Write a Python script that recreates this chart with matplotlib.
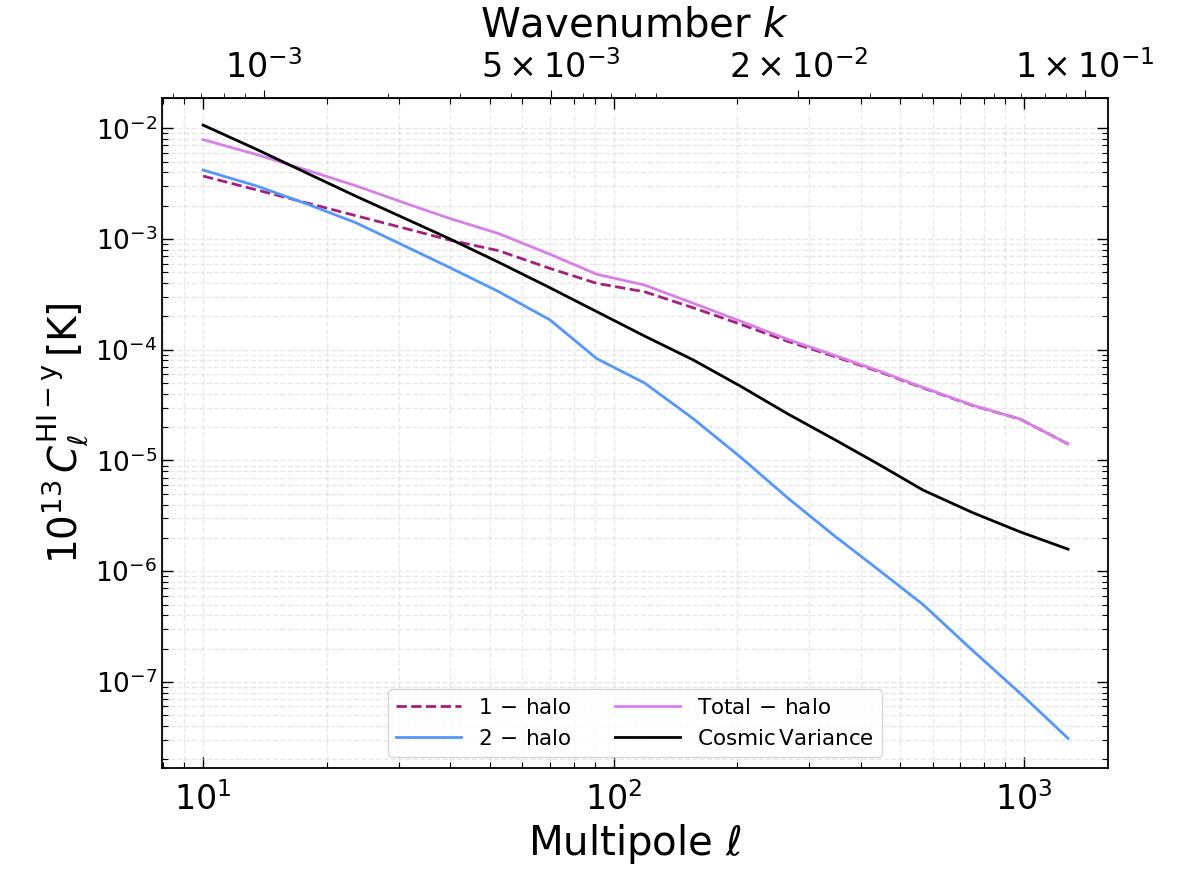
import matplotlib
matplotlib.use("Agg")
import matplotlib.pyplot as plt
from matplotlib.ticker import FixedLocator, FixedFormatter, NullFormatter

# multipoles of the log bins
ell = [10, 13.5, 17.8, 23.5, 30.5, 40, 52.5, 70, 91, 119, 156, 204, 266,
       345, 445, 567, 751, 977, 1280]

# 10^13 C_ell^{HI-y} [K]
one_halo = [3.71e-3, 2.78e-3, 2.13e-3, 1.63e-3, 1.27e-3, 9.77e-4, 7.85e-4,
            5.43e-4, 3.98e-4, 3.34e-4, 2.40e-4, 1.70e-4, 1.19e-4, 8.71e-5,
            6.31e-5, 4.52e-5, 3.13e-5, 2.37e-5, 1.41e-5]
two_halo = [4.20e-3, 3.02e-3, 2.09e-3, 1.41e-3, 8.91e-4, 5.50e-4, 3.35e-4,
            1.86e-4, 8.32e-5, 5.01e-5, 2.40e-5, 1.07e-5, 4.57e-6, 2.09e-6,
            1.01e-6, 5.01e-7, 1.91e-7, 7.94e-8, 3.09e-8]
total_halo = [7.91e-3, 5.80e-3, 4.22e-3, 3.04e-3, 2.16e-3, 1.53e-3, 1.12e-3,
              7.29e-4, 4.81e-4, 3.84e-4, 2.64e-4, 1.81e-4, 1.24e-4, 8.92e-5,
              6.41e-5, 4.57e-5, 3.15e-5, 2.37e-5, 1.41e-5]
cosmic_var = [1.07e-2, 6.46e-3, 3.98e-3, 2.45e-3, 1.58e-3, 1.00e-3, 6.17e-4,
              3.63e-4, 2.21e-4, 1.33e-4, 8.13e-5, 4.68e-5, 2.63e-5, 1.55e-5,
              9.12e-6, 5.41e-6, 3.37e-6, 2.27e-6, 1.58e-6]

# top axis: k = ell / chi
CHI = 14080.0
k_ticks = [1e-3, 5e-3, 2e-2, 1e-1]
k_labels = [r"$10^{-3}$", r"$5\times10^{-3}$", r"$2\times10^{-2}$", r"$1\times10^{-1}$"]

fig = plt.figure(figsize=(11.78, 8.71), dpi=100)
ax = fig.add_axes([0.1375, 0.1183, 0.8031, 0.7692])

ax.plot(ell, one_halo, ls="--", color="#a3207e", lw=2, label=r"$\rm 1\,-\,halo$")
ax.plot(ell, two_halo, color="#5597ff", lw=2, label=r"$\rm 2\,-\,halo$")
ax.plot(ell, total_halo, color="#d680e8", lw=2, label=r"$\rm Total\,-\,halo$")
ax.plot(ell, cosmic_var, color="black", lw=2, label=r"$\rm Cosmic\,Variance$")

ax.set_xscale("log")
ax.set_yscale("log")
ax.set_xlim(7.94, 1602)
ax.set_ylim(1.67e-8, 1.88e-2)

ax.grid(True, which="both", ls="--", color="0.85", alpha=0.6, lw=1)
ax.tick_params(which="both", direction="in", top=True, right=True)
ax.tick_params(which="major", length=8, width=1)
ax.tick_params(which="minor", length=4.5, width=0.8)
ax.tick_params(axis="x", labelsize=24, pad=10)
ax.tick_params(axis="y", labelsize=19)
for s in ax.spines.values():
    s.set_linewidth(1.3)

ax.set_xlabel(r"Multipole $\ell$", fontsize=29)
ax.set_ylabel(r"$10^{13}\,C_{\ell}^{\mathrm{HI}-\mathrm{y}}\,[\mathrm{K}]$", fontsize=28)

secax = ax.secondary_xaxis("top", functions=(lambda l: l / CHI, lambda k: k * CHI))
secax.xaxis.set_major_locator(FixedLocator(k_ticks))
secax.xaxis.set_major_formatter(FixedFormatter(k_labels))
secax.xaxis.set_minor_formatter(NullFormatter())
secax.tick_params(which="major", direction="out", length=6, labelsize=24)
secax.tick_params(which="minor", direction="out", length=3.5)
secax.set_xlabel(r"Wavenumber $k$", fontsize=29, labelpad=10)

ax.legend(loc="lower center", ncol=2, fontsize=15.5, handlelength=3)

fig.savefig("out.png", dpi=100)
